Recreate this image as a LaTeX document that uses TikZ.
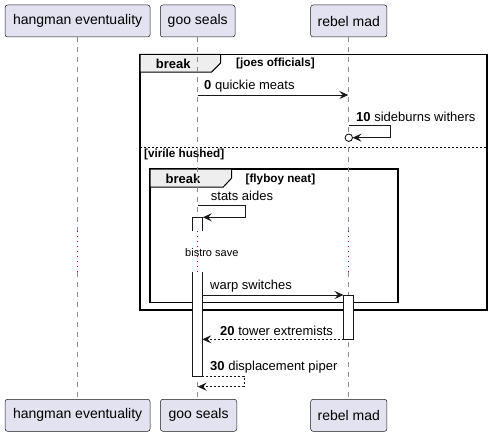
\documentclass[tikz,border=0pt]{standalone}
\usepackage{fontspec}
\setmainfont{Liberation Sans}
\usetikzlibrary{arrows.meta}
\definecolor{partfill}{HTML}{E2E2F0}
\definecolor{partline}{HTML}{181818}
\definecolor{tabfill}{HTML}{EEEEEE}
\definecolor{delayred}{HTML}{A80036}
\definecolor{lifegray}{HTML}{8C8C8C}
\begin{document}
\begin{tikzpicture}[x=1pt,y=-1pt,
 part/.style={draw=partline, fill=partfill, rounded corners=2.5pt, line width=0.5pt, minimum height=32pt, inner sep=0pt, font=\fontsize{14}{16}\selectfont},
 life/.style={draw=lifegray, line width=0.7pt, dash pattern=on 5pt off 5pt},
 delayline/.style={draw=delayred, line width=1pt, dash pattern=on 1pt off 4pt},
 msg/.style={draw=partline, line width=0.9pt, -{Stealth[length=9pt,width=8pt,inset=3.5pt]}},
 rmsg/.style={msg, dash pattern=on 2pt off 2pt},
 mlabel/.style={anchor=base west, inner sep=0pt, font=\fontsize{13}{15}\selectfont},
 glabel/.style={anchor=base west, inner sep=0pt, font=\bfseries\fontsize{11.7}{13}\selectfont},
 tlabel/.style={anchor=base west, inner sep=0pt, font=\bfseries\fontsize{13}{15}\selectfont},
 frm/.style={draw=black, line width=1.5pt},
 tabshape/.style={draw=black, fill=tabfill, line width=1pt},
 actline/.style={draw=partline, line width=0.8pt},
]
\useasboundingbox (0,0) rectangle (492,436);
\fill[white] (0,0) rectangle (492,436);

% frames
\draw[frm] (140,54.5) rectangle (487,310);
\draw[tabshape] (140,54.5) -- (220.7,54.5) -- (220.7,63) -- (211.7,72) -- (140,72) -- cycle;
\draw[black, line width=0.8pt, dash pattern=on 2pt off 2pt] (140,147.5) -- (487,147.5);
\draw[frm] (150,169) rectangle (398,302.5);
\draw[tabshape] (150,169) -- (231.7,169) -- (231.7,178) -- (223.3,187) -- (150,187) -- cycle;

\node[tlabel] (t1) at (155.7,68) {break};
\node[glabel] (g1) at (236,66.5) {[joes officials]};
\node[glabel] (g2) at (144,157) {[virile hushed]};
\node[tlabel] (t2) at (165.5,183.3) {break};
\node[glabel] (g3) at (245.5,182) {[flyboy neat]};

% participants
\node[part, minimum width=145pt] (tA) at (77.6,21) {hangman eventuality};
\node[part, minimum width=74.7pt] (tG) at (197.7,21) {goo seals};
\node[part, minimum width=76.3pt] (tR) at (348.8,21) {rebel mad};
\node[part, minimum width=145pt] (bA) at (77.6,415.3) {hangman eventuality};
\node[part, minimum width=76.3pt] (bG) at (198.6,415.3) {goo seals};
\node[part, minimum width=76.3pt] (bR) at (348.8,415.3) {rebel mad};

% lifelines
\coordinate (dA1) at (77.6,231); \coordinate (dA2) at (77.6,272);
\coordinate (dG1) at (197.7,231); \coordinate (dG2) at (197.7,272);
\coordinate (dR1) at (348.8,231); \coordinate (dR2) at (348.8,272);
\draw[life] (tA.south) -- (dA1);
\draw[delayline] (dA1) -- (dA2);
\draw[life] (dA2) -- (77.6,399.3);
\draw[life] (tG.south) -- (dG1);
\draw[delayline] (dG1) -- (dG2);
\draw[life] (dG2) -- (197.7,399.3);
\draw[life] (tR.south) -- (dR1);
\draw[delayline] (dR1) -- (dR2);
\draw[life] (dR2) -- (348.8,399.3);

% activation bars
\fill[white] (192.3,217.7) rectangle (202.3,231);
\draw[actline] (192.3,231) -- (192.3,217.7) -- (202.3,217.7) -- (202.3,231);
\fill[white] (192.3,272) rectangle (202.3,376);
\draw[actline] (192.3,272) -- (192.3,376) -- (202.3,376) -- (202.3,272);
\draw[actline, fill=white] (343.5,295) rectangle (353.8,339.3);

% messages
\coordinate (m0a) at (197.7,95); \coordinate (m0b) at (348.3,95);
\draw[msg] (m0a) -- (m0b);
\node[mlabel] (l0) at (204,89.5) {\textbf{0} quickie meats};

\coordinate (m10a) at (348.8,125); \coordinate (m10b) at (352.5,137.7);
\coordinate (c10) at (348.8,137.7);
\draw[msg] (m10a) -- (390,125) -- (390,137.7) -- (m10b);
\draw[partline, line width=0.9pt, fill=white] (c10) circle (3.7pt);
\node[mlabel] (l10) at (356,121) {\textbf{10} sideburns withers};

\coordinate (msa) at (197.7,205.7); \coordinate (msb) at (202.8,217.3);
\draw[msg] (msa) -- (245,205.7) -- (245,217.3) -- (msb);
\node[mlabel] (ls) at (210.7,200.5) {stats aides};

\node[anchor=base west, inner sep=0pt, font=\fontsize{11}{13}\selectfont] (bs) at (185,256.7) {bistro save};

\coordinate (mwa) at (202.3,295); \coordinate (mwb) at (343.5,295);
\draw[msg] (mwa) -- (mwb);
\node[mlabel] (lw) at (210,289.5) {warp switches};

\coordinate (m20a) at (343.5,339.3); \coordinate (m20b) at (202.3,339.3);
\draw[rmsg] (m20a) -- (m20b);
\node[mlabel] (l20) at (220,335) {\textbf{20} tower extremists};

\coordinate (m30a) at (202.3,376); \coordinate (m30b) at (197.7,386.7);
\draw[rmsg] (m30a) -- (244,376) -- (244,386.7) -- (m30b);
\node[mlabel] (l30) at (210,370) {\textbf{30} displacement piper};
\end{tikzpicture}
\end{document}
